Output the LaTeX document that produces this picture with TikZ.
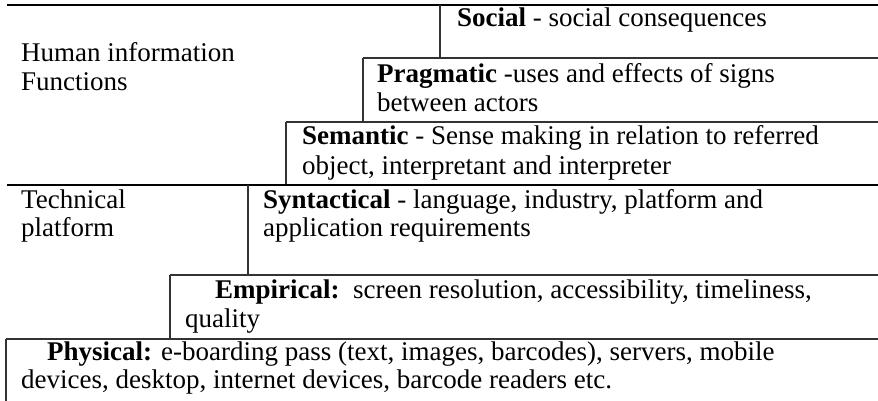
\documentclass[tikz,border=0pt]{standalone}
\usepackage{fontspec}
\setmainfont{Liberation Serif}
\begin{document}
\begin{tikzpicture}[x=1pt,y=-1pt,
  rule/.style={draw=black!80,line width=1.4pt},
  toprule/.style={draw=black,line width=2pt},
  txt/.style={anchor=base west,inner sep=0pt,font=\fontsize{27}{29}\selectfont}]
\useasboundingbox (0,0) rectangle (878,401);
% rules
\draw[toprule] (7,5) -- (878,5);
\draw[rule] (440,5) -- (440,58);
\draw[rule] (363,58) -- (878,58);
\draw[rule] (363,58) -- (363,122);
\draw[rule] (286,122) -- (878,122);
\draw[rule] (286,122) -- (286,185);
\draw[toprule] (7,185) -- (878,185);
\draw[rule] (248,185) -- (248,275);
\draw[rule] (170,275) -- (878,275);
\draw[rule] (170,275) -- (170,339);
\draw[rule] (6,339) -- (878,339);
\draw[rule] (6,339) -- (6,401);
% texts
\node[txt] (hum1) at (21,62) {Human information};
\node[txt] (hum2) at (21,91) {Functions};
\node[txt] (soc) at (457,27) {\textbf{Social} - social consequences};
\node[txt] (prag1) at (377,83) {\textbf{Pragmatic} -uses and effects of signs};
\node[txt] (prag2) at (377,112) {between actors};
\node[txt] (sem1) at (302,145) {\textbf{Semantic} - Sense making in relation to referred};
\node[txt] (sem2) at (302,174) {object, interpretant and interpreter};
\node[txt] (tech1) at (21,208) {Technical};
\node[txt] (tech2) at (21,236) {platform};
\node[txt] (syn1) at (263,208) {\textbf{Syntactical} - language, industry, platform and};
\node[txt] (syn2) at (263,236) {application requirements};
\node[txt] (emp1) at (215,298) {\textbf{Empirical:}\ \ screen resolution, accessibility, timeliness,};
\node[txt] (emp2) at (185,327) {quality};
\node[txt] (phy1) at (47,360) {\textbf{Physical:} e-boarding pass (text, images, barcodes), servers, mobile};
\node[txt] (phy2) at (21,388) {devices, desktop, internet devices, barcode readers etc.};
\end{tikzpicture}
\end{document}
